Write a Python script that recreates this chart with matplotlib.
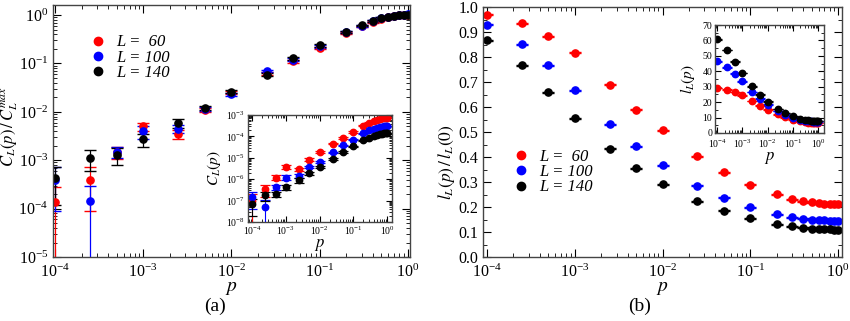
import numpy as np
import matplotlib
matplotlib.use('Agg')
import matplotlib.pyplot as plt
from matplotlib.lines import Line2D
from matplotlib.ticker import LogLocator, MultipleLocator, NullFormatter

plt.rcParams['font.family'] = 'serif'
plt.rcParams['font.serif'] = ['Liberation Serif', 'DejaVu Serif']
plt.rcParams['mathtext.fontset'] = 'stix'

# probabilidades p
p = [1e-4, 2.5e-4, 5e-4, 1e-3, 2.5e-3, 5e-3, 1e-2, 2.5e-2, 5e-2, 0.1,
     0.2, 0.3, 0.4, 0.5, 0.6, 0.7, 0.8, 0.9, 1.0]
tamanos = ['L =  60', 'L = 100', 'L = 140']
colores = ['#ff0000', '#0000ff', '#000000']

# (a) C_L(p) / C_L^max
c_norm_60 = [1.4e-4, 4.0e-4, 1.45e-3, 5.0e-3, 3.5e-3, 1.1e-2, 2.5e-2, 6.3e-2, 0.11, 0.21,
             0.42, 0.58, 0.73, 0.83, 0.90, 0.95, 0.98, 1.0, 1.0]
c_norm_100 = [4.0e-4, 1.45e-4, 1.5e-3, 4.0e-3, 4.5e-3, 1.15e-2, 2.3e-2, 6.9e-2, 0.12, 0.225,
              0.45, 0.60, 0.76, 0.86, 0.93, 0.97, 0.99, 1.0, 1.03]
c_norm_140 = [4.3e-4, 1.1e-3, 1.3e-3, 2.7e-3, 5.8e-3, 1.2e-2, 2.6e-2, 5.8e-2, 0.128, 0.235,
              0.44, 0.61, 0.76, 0.86, 0.92, 0.96, 0.98, 0.99, 1.0]
err_norm_60 = [1.45e-4, 3.1e-4, 4e-4, 1.0e-3, 8e-4, 1.2e-3, 2e-3, 4e-3, 8e-3, 1.2e-2,
               2e-2, 2.5e-2, 3e-2, 3e-2, 3e-2, 3e-2, 3e-2, 3e-2, 3e-2]
err_norm_100 = [3.1e-4, 1.5e-4, 4e-4, 1.2e-3, 8e-4, 1.2e-3, 2e-3, 4e-3, 8e-3, 1.2e-2,
                2e-2, 2.5e-2, 3e-2, 3e-2, 3e-2, 3e-2, 3e-2, 3e-2, 3e-2]
err_norm_140 = [3.1e-4, 5e-4, 5e-4, 8e-4, 1.2e-3, 1.2e-3, 2e-3, 4e-3, 8e-3, 1.2e-2,
                2e-2, 2.5e-2, 3e-2, 3e-2, 3e-2, 3e-2, 3e-2, 3e-2, 3e-2]

# inserto (a): C_L(p)
c_60 = [1.0e-7, 3.5e-7, 1.2e-6, 3.8e-6, 2.9e-6, 8.3e-6, 1.9e-5, 4.5e-5, 8.4e-5, 1.6e-4,
        3.2e-4, 4.3e-4, 5.3e-4, 6.1e-4, 6.7e-4, 7.1e-4, 7.4e-4, 7.6e-4, 7.6e-4]
c_100 = [1.5e-7, 5e-8, 4.2e-7, 1.2e-6, 1.4e-6, 3.8e-6, 6.4e-6, 1.8e-5, 3.8e-5, 7e-5,
         1.4e-4, 1.9e-4, 2.3e-4, 2.6e-4, 2.8e-4, 2.9e-4, 3.0e-4, 3.0e-4, 3.1e-4]
c_140 = [7e-8, 1.8e-7, 2e-7, 4.2e-7, 9e-7, 1.9e-6, 3.8e-6, 8.9e-6, 1.8e-5, 3.4e-5,
         6.5e-5, 8.7e-5, 1.05e-4, 1.2e-4, 1.3e-4, 1.35e-4, 1.38e-4, 1.4e-4, 1.4e-4]
err_c_60 = [1e-7, 2e-7, 3e-7, 8e-7, 6e-7, 1e-6, 2e-6, 3e-6, 6e-6, 1e-5,
            1.5e-5, 2e-5, 2e-5, 2e-5, 2e-5, 2e-5, 2e-5, 2e-5, 2e-5]
err_c_100 = [1.1e-7, 6e-8, 1.2e-7, 3e-7, 3e-7, 5e-7, 8e-7, 1.5e-6, 3e-6, 5e-6,
             8e-6, 1e-5, 1e-5, 1e-5, 1e-5, 1e-5, 1e-5, 1e-5, 1e-5]
err_c_140 = [5e-8, 8e-8, 6e-8, 1.2e-7, 2e-7, 3e-7, 5e-7, 1e-6, 2e-6, 3e-6,
             4e-6, 5e-6, 5e-6, 5e-6, 5e-6, 5e-6, 5e-6, 5e-6, 5e-6]

# (b) l_L(p) / l_L(0)
l_norm_60 = [0.970, 0.936, 0.884, 0.817, 0.690, 0.590, 0.507, 0.404, 0.340, 0.289,
             0.251, 0.232, 0.224, 0.219, 0.216, 0.214, 0.213, 0.212, 0.212]
l_norm_100 = [0.929, 0.851, 0.768, 0.667, 0.531, 0.444, 0.368, 0.285, 0.237, 0.199,
              0.172, 0.160, 0.153, 0.150, 0.148, 0.147, 0.146, 0.146, 0.146]
l_norm_140 = [0.867, 0.767, 0.660, 0.555, 0.433, 0.356, 0.291, 0.223, 0.185, 0.156,
              0.132, 0.123, 0.117, 0.114, 0.112, 0.111, 0.111, 0.110, 0.110]

# inserto (b): l_L(p)
l_60 = [29.1, 28.1, 26.5, 24.5, 20.7, 17.7, 15.2, 12.1, 10.2, 8.7,
        7.5, 7.0, 6.7, 6.6, 6.5, 6.4, 6.4, 6.4, 6.4]
l_100 = [46.5, 42.6, 38.4, 33.4, 26.6, 22.2, 18.4, 14.3, 11.9, 10.0,
         8.6, 8.0, 7.7, 7.5, 7.4, 7.35, 7.3, 7.3, 7.3]
l_140 = [60.7, 53.7, 46.2, 38.9, 30.3, 24.9, 20.4, 15.6, 13.0, 10.9,
         9.2, 8.6, 8.2, 8.0, 7.8, 7.8, 7.8, 7.7, 7.7]

serie_a = [c_norm_60, c_norm_100, c_norm_140]
err_a = [err_norm_60, err_norm_100, err_norm_140]
serie_ia = [c_60, c_100, c_140]
err_ia = [err_c_60, err_c_100, err_c_140]
serie_b = [l_norm_60, l_norm_100, l_norm_140]
serie_ib = [l_60, l_100, l_140]


def ejes(ax, ticksize, major=6, minor=3, logx=True, logy=False):
    # ticks hacia dentro en los cuatro lados, todas las décadas etiquetadas
    if logx:
        ax.xaxis.set_major_locator(LogLocator(base=10, numticks=12))
        ax.xaxis.set_minor_locator(LogLocator(base=10, subs=np.arange(2, 10), numticks=12))
        ax.xaxis.set_minor_formatter(NullFormatter())
    if logy:
        ax.yaxis.set_major_locator(LogLocator(base=10, numticks=12))
        ax.yaxis.set_minor_locator(LogLocator(base=10, subs=np.arange(2, 10), numticks=12))
        ax.yaxis.set_minor_formatter(NullFormatter())
    ax.tick_params(which='both', direction='in', top=True, right=True, labelsize=ticksize)
    ax.tick_params(which='major', length=major, width=0.8)
    ax.tick_params(which='minor', length=minor, width=0.6)
    for s in ax.spines.values():
        s.set_linewidth(1.0)
        s.set_color('#444444')


fig = plt.figure(figsize=(8.5, 3.21), dpi=100)

# ---------------- (a) ----------------
ax1 = fig.add_axes([0.0624, 0.199, 0.4196, 0.785])
for y, e, col in zip(serie_a, err_a, colores):
    ax1.errorbar(p, y, yerr=e, fmt='o', color=col, ms=5.2, capsize=4,
                 elinewidth=0.9, capthick=1.0, mec=col)
ax1.set_xscale('log')
ax1.set_yscale('log')
ax1.set_xlim(0.95e-4, 1.05)
ax1.set_ylim(1e-5, 1.6)
ejes(ax1, 11.5, logy=True)
ax1.tick_params(axis='x', pad=5)
ax1.set_xlabel(r'$p$', fontsize=14, labelpad=-1)
ax1.set_ylabel(r'$C_L(p)\,/\,C_L^{max}$', fontsize=12)
ax1.yaxis.set_label_coords(-0.092, 0.52)
h = [Line2D([], [], ls='none', marker='o', color=c, ms=6) for c in colores]
ax1.legend(h, tamanos, loc='upper left', bbox_to_anchor=(0.08, 0.93), frameon=False,
           prop={'style': 'italic', 'size': 12}, handlelength=0.6, handletextpad=0.8,
           labelspacing=-0.05, borderpad=0.2)
fig.text(0.253, 0.045, '(a)', ha='center', va='center', fontsize=14)

# inserto (a)
ia = fig.add_axes([0.2918, 0.3084, 0.1694, 0.3333])
for y, e, col in zip(serie_ia, err_ia, colores):
    ia.errorbar(p, y, yerr=e, fmt='o', color=col, ms=4.6, capsize=3.5,
                elinewidth=0.8, capthick=0.9, mec=col)
ia.set_xscale('log')
ia.set_yscale('log')
ia.set_xlim(0.76e-4, 1.4)
ia.set_ylim(1e-8, 1e-3)
ejes(ia, 7, major=4, minor=2, logy=True)
ia.tick_params(pad=2)
ia.set_xlabel(r'$p$', fontsize=12, labelpad=0)
ia.set_ylabel(r'$C_L(p)$', fontsize=11, labelpad=2)

# ---------------- (b) ----------------
ax2 = fig.add_axes([0.5682, 0.199, 0.4224, 0.779])
for y, col in zip(serie_b, colores):
    ax2.errorbar(p, y, yerr=0.002, fmt='o', color=col, ms=5.2, capsize=4,
                 elinewidth=0.9, capthick=1.0, mec=col)
ax2.set_xscale('log')
ax2.set_xlim(0.9e-4, 1.11)
ax2.set_ylim(0, 1.0)
ax2.yaxis.set_major_locator(MultipleLocator(0.1))
ax2.yaxis.set_minor_locator(MultipleLocator(0.05))
ax2.yaxis.set_major_formatter(plt.FormatStrFormatter('%.1f'))
ejes(ax2, 11.5)
ax2.tick_params(axis='x', pad=5)
ax2.set_xlabel(r'$p$', fontsize=14, labelpad=-1)
ax2.set_ylabel(r'$l_L(p)\,/\,l_L(0)$', fontsize=12.5)
ax2.yaxis.set_label_coords(-0.072, 0.38)
h = [Line2D([], [], ls='none', marker='o', color=c, ms=6) for c in colores]
ax2.legend(h, tamanos, loc='lower left', bbox_to_anchor=(0.06, 0.2), frameon=False,
           prop={'style': 'italic', 'size': 12}, handlelength=0.6, handletextpad=0.8,
           labelspacing=-0.05, borderpad=0.2)
fig.text(0.753, 0.045, '(b)', ha='center', va='center', fontsize=14)

# inserto (b)
ib = fig.add_axes([0.8412, 0.5857, 0.1282, 0.3364])
for y, col in zip(serie_ib, colores):
    ib.errorbar(p, y, yerr=0.2, fmt='o', color=col, ms=4.6, capsize=3.5,
                elinewidth=0.8, capthick=0.9, mec=col)
ib.set_xscale('log')
ib.set_xlim(0.83e-4, 1.7)
ib.set_ylim(0, 70)
ib.yaxis.set_major_locator(MultipleLocator(10))
ib.yaxis.set_minor_locator(MultipleLocator(5))
ejes(ib, 7, major=4, minor=2)
ib.tick_params(axis='y', pad=2)
ib.tick_params(axis='x', pad=3)
ib.set_xlabel(r'$p$', fontsize=12, labelpad=0)
ib.set_ylabel(r'$l_L(p)$', fontsize=11, labelpad=4)

fig.savefig('out.png', dpi=100)
